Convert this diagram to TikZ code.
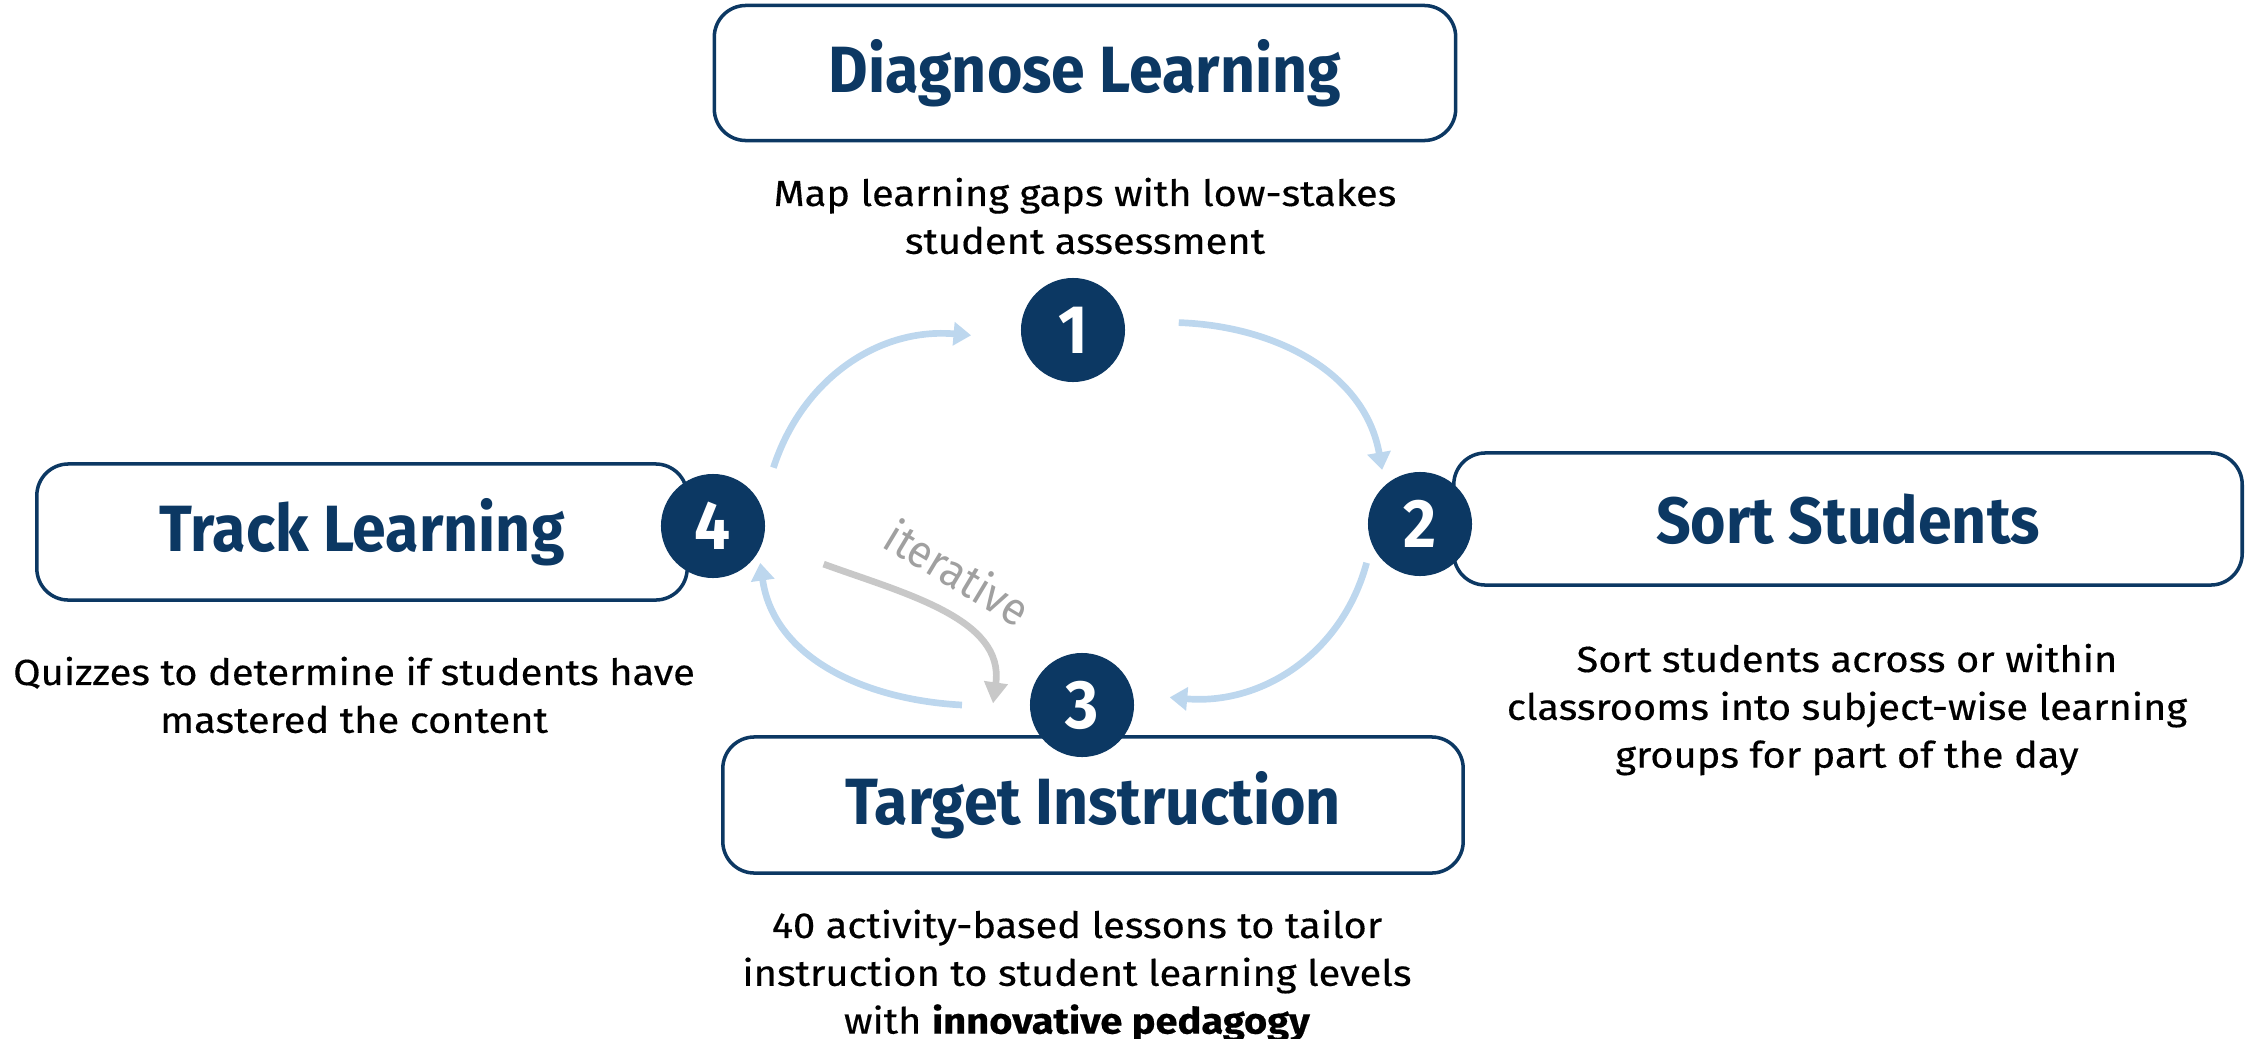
\documentclass[tikz,border=0pt]{standalone}
\usepackage{fontspec}
\setmainfont{Fira Sans}
\newfontfamily\titlefont{Fira Sans}[FakeStretch=0.93]
\newfontfamily\descfont{Fira Sans}[FakeStretch=1.1, FakeBold=0.4]
\usepackage{xcolor}
\usepackage{tikz}
\usetikzlibrary{positioning,calc,arrows.meta}

\definecolor{navy}{RGB}{12,56,99}
\definecolor{paleblue}{RGB}{189,215,238}
\definecolor{arrowgray}{RGB}{200,200,200}
\definecolor{textgray}{RGB}{160,160,160}

\tikzset{
  stagebox/.style={draw=navy, line width=1pt, rounded corners=9pt, fill=white,
    text=navy, font=\titlefont\bfseries\fontsize{18.6}{22}\selectfont},
  stepnum/.style={circle, fill=navy, minimum size=1.04cm, inner sep=0pt,
    text=white, font=\titlefont\bfseries\fontsize{19.5}{22}\selectfont},
  desctext/.style={anchor=north, align=center, inner sep=0pt,
    font=\descfont\fontsize{10.3}{13.6}\selectfont},
  cycarrow/.style={paleblue, line width=1.9pt, -{Triangle[length=5pt,width=6.5pt]}},
  iterarrow/.style={arrowgray, line width=1.9pt, -{Triangle[length=6pt,width=6.5pt]}}
}

\begin{document}
\begin{tikzpicture}[x=0.01cm, y=0.01cm]
  \useasboundingbox (0,0) rectangle (2253,-1039);

  % Stage boxes
  \node[stagebox, minimum width=7.41cm, minimum height=1.35cm] (diag) at (1085,-73) {Diagnose Learning};
  \node[stagebox, minimum width=7.88cm, minimum height=1.32cm] (sort) at (1848,-519) {Sort Students};
  \node[stagebox, minimum width=7.40cm, minimum height=1.36cm] (target) at (1093,-805) {Target Instruction};
  \node[stagebox, minimum width=6.50cm, minimum height=1.36cm] (track) at (362,-532) {Track Learning};

  % Step numbers
  \node[stepnum] (n1) at (1073,-330) {1};
  \node[stepnum] (n2) at (1420,-524) {2};
  \node[stepnum] (n3) at (1082,-705) {3};
  \node[stepnum] (n4) at (713,-526) {4};

  % Descriptions
  \node[desctext] (diagtxt) at (1085,-177) {Map learning gaps with low-stakes\\student assessment};
  \node[desctext] (sorttxt) at (1847,-643) {Sort students across or within\\classrooms into subject-wise learning\\groups for part of the day};
  \node[desctext] (targettxt) at (1077,-909) {40 activity-based lessons to tailor\\instruction to student learning levels\\with \textbf{innovative pedagogy}};
  \node[desctext] (tracktxt) at (354,-656) {Quizzes to determine if students have\\mastered the content};

  % Cycle arrows
  \draw[cycarrow] ($(n4)+(44:84)$) to[out=72, in=175] ($(n1)+(183:102)$);
  \draw[cycarrow] ($(n1)+(4:106)$) to[out=-2, in=100] ($(n2)+(125:66)$);
  \draw[cycarrow] ($(n2)+(216:66)$) to[out=-105, in=-5] ($(n3)+(5:88)$);
  \draw[cycarrow] ($(n3)+(180:120)$) to[out=177, in=-82] ($(n4)+(-38:60)$);

  % Iterative arrow
  \draw[iterarrow] ($(n4)+(-19:117)$) to[out=-20, in=82] ($(n3)+(179:89)$);
  \node[text=textgray, rotate=-31, font=\titlefont\fontsize{13}{15}\selectfont] (iter) at (958,-572) {iterative};
\end{tikzpicture}
\end{document}
